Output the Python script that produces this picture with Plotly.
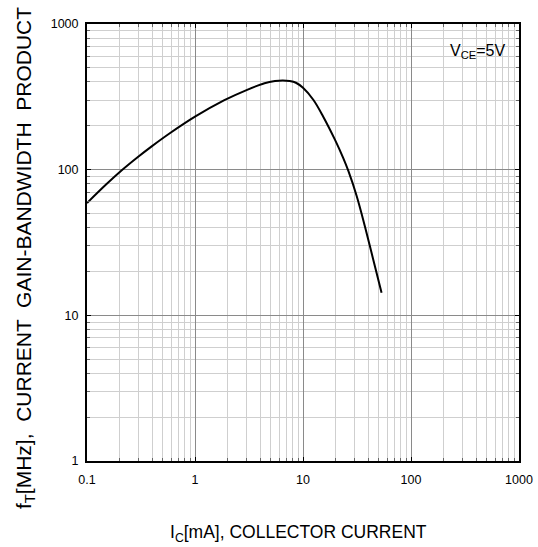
import plotly.graph_objects as go

ic_ma = [0.1, 0.15, 0.2, 0.3, 0.4, 0.58, 1, 1.87, 3, 4.4, 5.5, 6.5, 7.5, 8.6, 10,
         12.5, 15.4, 19.8, 23.6, 26.3, 31.4, 37.5, 44.8, 53.4]
ft_mhz = [59, 79, 96, 123, 145, 177, 231, 300, 352, 392, 406, 410, 406, 395, 365,
          301, 231, 160, 120, 98, 66, 40.6, 24, 14.3]
x_tick_text = ["0.1", "1", "10", "100", "1000"]
y_tick_text = ["1", "10", "100", "1000"]

FONT = "Liberation Sans, Arial, sans-serif"

fig = go.Figure()
fig.add_trace(go.Scatter(x=ic_ma, y=ft_mhz, mode="lines",
                         line=dict(color="black", width=2, shape="spline", smoothing=1.0),
                         hoverinfo="skip", showlegend=False))

axis_common = dict(
    type="log", showline=True, linecolor="black", linewidth=2, mirror="allticks",
    tickmode="linear", tick0=0, dtick=1, automargin=False,
    showgrid=True, gridcolor="#8a8a8a", gridwidth=1,
    ticks="inside", ticklen=4, tickcolor="black", tickwidth=1,
    tickfont=dict(family=FONT, size=12.5, color="black"),
    minor=dict(dtick="D1", showgrid=True, gridcolor="#cfcfcf", gridwidth=1,
               ticks="inside", ticklen=3, tickcolor="#666666"),
    zeroline=False, layer="above traces",
)

fig.update_xaxes(range=[-1, 3], ticktext=x_tick_text, ticklabelstandoff=6, **axis_common)
fig.update_yaxes(range=[0, 3], ticktext=y_tick_text, ticklabelstandoff=4, **axis_common)

fig.add_shape(type="rect", xref="paper", yref="paper", x0=0.818, x1=0.995, y0=0.888, y1=0.997,
              fillcolor="white", line=dict(width=0), layer="between")

fig.add_annotation(text="V<sub>CE</sub>=5V", xref="paper", yref="paper", x=0.905, y=0.938,
                   xanchor="center", yanchor="middle",
                   showarrow=False, font=dict(family=FONT, size=16, color="black"))
fig.add_annotation(text="I<sub>C</sub>[mA], COLLECTOR CURRENT", xref="paper", yref="paper",
                   x=0.49, y=-0.165, xanchor="center", yanchor="middle", showarrow=False,
                   font=dict(family=FONT, size=17.5, color="black"))
fig.add_annotation(text="f<sub>T</sub>[MHz],  CURRENT  GAIN-BANDWIDTH  PRODUCT", xref="paper", yref="paper",
                   x=-0.1435, y=0.4645, textangle=-90, xanchor="center", yanchor="middle", showarrow=False,
                   font=dict(family=FONT, size=21, color="black"))

fig.update_layout(width=538, height=547, margin=dict(l=87, r=19, t=24, b=86),
                  plot_bgcolor="white", paper_bgcolor="white")

fig.write_html("out.html", config={"displayModeBar": False, "responsive": False},
               post_script="document.body.style.margin='0';document.body.style.overflow='hidden';")
